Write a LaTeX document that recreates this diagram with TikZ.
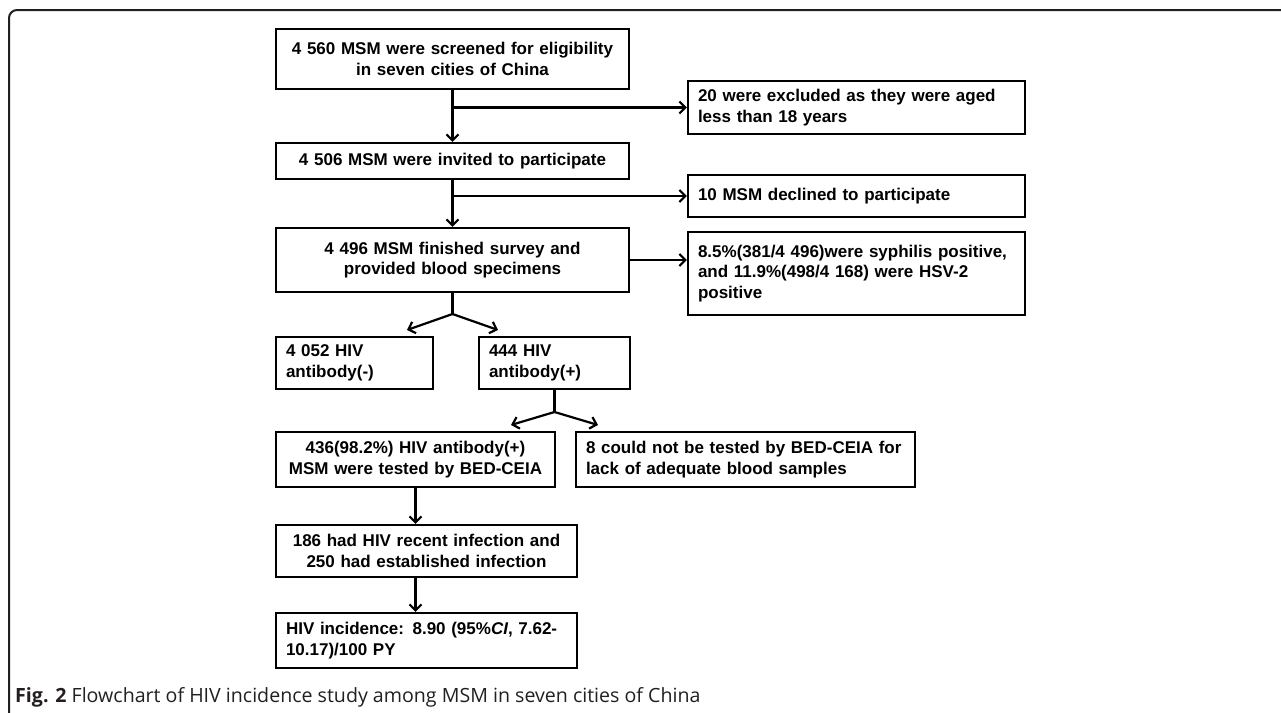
\documentclass[tikz,border=0pt]{standalone}
\usepackage{fontspec}
\setmainfont{Liberation Sans}
\newfontfamily\capfont{Open Sans}
\usetikzlibrary{arrows.meta}
\definecolor{framec}{HTML}{231F20}
\begin{document}
\begin{tikzpicture}[x=1pt,y=-1pt,
  box/.style={draw=black, line width=2.2pt, inner xsep=10pt, inner ysep=0pt,
    font=\bfseries\fontsize{17}{20.7}\selectfont},
  lbox/.style={box, align=left},
  cbox/.style={box, align=center},
  arr/.style={line width=2.2pt, -{Straight Barb[length=6pt,width=12pt]}},
  ln/.style={line width=2.2pt}]
\useasboundingbox (0,0) rectangle (1281,712);
% frame
\draw[line width=2pt, framec, rounded corners=8pt] (1290,10) -- (9,10) -- (9,720);

% main column
\node[cbox, minimum width=353pt, minimum height=60pt, text width=333pt] (A) at (452.5,59)
  {4 560 MSM were screened for eligibility\\in seven cities of China};
\node[cbox, minimum width=353pt, minimum height=36pt, text width=333pt] (B) at (452.5,161)
  {4 506 MSM were invited to participate};
\node[cbox, minimum width=353pt, minimum height=64pt, text width=333pt] (C) at (452.5,260)
  {4 496 MSM finished survey and\\provided blood specimens};

% right column
\node[lbox, minimum width=337pt, minimum height=53pt, text width=317pt] (E1) at (856.5,107.5)
  {20 were excluded as they were aged\\less than 18 years};
\node[lbox, minimum width=337pt, minimum height=42pt, text width=317pt] (E2) at (856.5,196)
  {10 MSM declined to participate};
\node[lbox, minimum width=337pt, minimum height=83pt, text width=317pt] (E3) at (856.5,273.5)
  {8.5\%(381/4 496)were syphilis positive,\\and 11.9\%(498/4 168) were HSV-2\\positive};

% split level
\node[lbox, minimum width=157pt, minimum height=52pt, text width=137pt] (D1) at (354.5,363)
  {4 052 HIV\\antibody(-)};
\node[lbox, minimum width=151pt, minimum height=52pt, text width=131pt] (D2) at (554.5,363)
  {444 HIV\\antibody(+)};

\node[cbox, minimum width=279pt, minimum height=55pt, text width=259pt] (F1) at (415.5,459.5)
  {436(98.2\%) HIV antibody(+)\\MSM were tested by BED-CEIA};
\node[lbox, minimum width=339pt, minimum height=55pt, text width=319pt] (F2) at (745.5,459.5)
  {8 could not be tested by BED-CEIA for\\lack of adequate blood samples};

\node[cbox, minimum width=301pt, minimum height=52pt, text width=281pt] (G) at (426.5,551)
  {186 had HIV recent infection and\\250 had established infection};
\node[lbox, minimum width=301pt, minimum height=55pt, text width=281pt] (H) at (426.5,640.5)
  {HIV incidence: 8.90 (95\%\textit{CI}, 7.62-\\10.17)/100 PY};

% connectors
\coordinate (jA) at (452.5,107.5);
\draw[arr] (A.south) -- (B.north);
\draw[arr] (jA) -- (E1.west);
\coordinate (jB) at (452.5,196);
\draw[arr] (B.south) -- (C.north);
\draw[arr] (jB) -- (E2.west);
\draw[arr] (C.east) -- (C.east -| E3.west);

\coordinate (jC) at (452.5,314);
\coordinate (tD1) at (407,330);
\coordinate (tD2) at (498,330);
\draw[ln] (C.south) -- (jC);
\draw[arr] (jC) -- (tD1);
\draw[arr] (jC) -- (tD2);

\coordinate (jD) at (554.5,412);
\coordinate (tF1) at (511,425);
\coordinate (tF2) at (598,425);
\draw[ln] (D2.south) -- (jD);
\draw[arr] (jD) -- (tF1);
\draw[arr] (jD) -- (tF2);

\draw[arr] (F1.south) -- (F1.south |- G.north);
\draw[arr] (F1.south |- G.south) -- (F1.south |- H.north);

% caption
\node[anchor=west, inner sep=0pt, font=\capfont\fontsize{19.6}{23}\selectfont, text=framec] (cap) at (15,697)
  {\textbf{Fig. 2} Flowchart of HIV incidence study among MSM in seven cities of China};
\end{tikzpicture}
\end{document}
